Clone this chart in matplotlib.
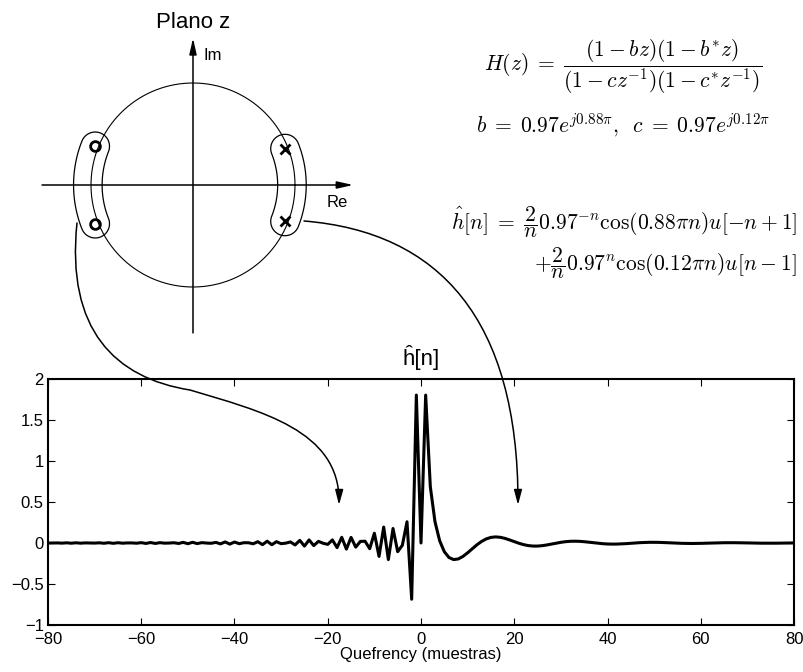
import numpy as np
import matplotlib
matplotlib.use("Agg")
import matplotlib.pyplot as plt
from matplotlib.path import Path
from matplotlib.patches import FancyArrowPatch, Polygon
from matplotlib.ticker import FuncFormatter

plt.rcParams['font.family'] = ['Liberation Sans', 'DejaVu Sans']
plt.rcParams['mathtext.fontset'] = 'cm'

# cepstrum values, n = -80 .. 80
n = np.arange(-80, 81)
h_neg = [-0.0007, -0.0001, 0.0010, -0.0018, 0.0024, -0.0027, 0.0026, -0.0022,
         0.0013, -0.0002, -0.0011, 0.0023, -0.0032, 0.0038, -0.0039, 0.0034,
         -0.0024, 0.0009, 0.0009, -0.0027, 0.0043, -0.0054, 0.0058, -0.0054,
         0.0041, -0.0021, -0.0005, 0.0032, -0.0058, 0.0077, -0.0087, 0.0085,
         -0.0070, 0.0043, -0.0007, -0.0035, 0.0076, -0.0110, 0.0131, -0.0136,
         0.0120, -0.0084, 0.0031, 0.0033, -0.0099, 0.0159, -0.0202, 0.0220,
         -0.0207, 0.0160, -0.0083, -0.0018, 0.0130, -0.0237, 0.0324, -0.0374,
         0.0373, -0.0315, 0.0198, -0.0032, -0.0168, 0.0376, -0.0563, 0.0695,
         -0.0744, 0.0683, -0.0500, 0.0194, 0.0217, -0.0697, 0.1193, -0.1636,
         0.1944, -0.2023, 0.1770, -0.1062, -0.0278, 0.2591, -0.6859, 1.8038]
h_zero = [0.0]
h_pos = [1.8038, 0.6859, 0.2591, 0.0278, -0.1062, -0.1770, -0.2023, -0.1944,
         -0.1636, -0.1193, -0.0697, -0.0217, 0.0194, 0.0500, 0.0683, 0.0744,
         0.0695, 0.0563, 0.0376, 0.0168, -0.0032, -0.0198, -0.0315, -0.0373,
         -0.0374, -0.0324, -0.0237, -0.0130, -0.0018, 0.0083, 0.0160, 0.0207,
         0.0220, 0.0202, 0.0159, 0.0099, 0.0033, -0.0031, -0.0084, -0.0120,
         -0.0136, -0.0131, -0.0110, -0.0076, -0.0035, 0.0007, 0.0043, 0.0070,
         0.0085, 0.0087, 0.0077, 0.0058, 0.0032, 0.0005, -0.0021, -0.0041,
         -0.0054, -0.0058, -0.0054, -0.0043, -0.0027, -0.0009, 0.0009, 0.0024,
         0.0034, 0.0039, 0.0038, 0.0032, 0.0023, 0.0011, -0.0002, -0.0013,
         -0.0022, -0.0026, -0.0027, -0.0024, -0.0018, -0.0010, -0.0001, 0.0007]
h_hat = np.array(h_neg + h_zero + h_pos)

# zeros outside / poles inside the unit circle
zero_r = 1 / 0.97
zero_ang = [0.88 * np.pi, -0.88 * np.pi]
pole_r = 0.97
pole_ang = [0.12 * np.pi, -0.12 * np.pi]

W, H = 804, 672
fig = plt.figure(figsize=(W / 100, H / 100), dpi=100)


def fx(x):
    return x / W


def fy(y):
    return 1 - y / H


# ---- bottom plot ----
ax = fig.add_axes([fx(48), fy(625), (794 - 48) / W, (625 - 379) / H])
ax.plot(n, h_hat, color='black', lw=2.2)
ax.set_xlim(-80, 80)
ax.set_ylim(-1, 2)
ax.set_xticks(np.arange(-80, 81, 20))
ax.set_yticks([-1, -0.5, 0, 0.5, 1, 1.5, 2])
fmt = FuncFormatter(lambda v, p: ('%g' % v).replace('-', '\u2212'))
ax.xaxis.set_major_formatter(fmt)
ax.yaxis.set_major_formatter(fmt)
ax.tick_params(direction='in', top=True, right=True, length=5, width=0.8,
               labelsize=12)
ax.tick_params(axis='x', pad=5)
ax.tick_params(axis='y', pad=3)
for s in ax.spines.values():
    s.set_linewidth(1.5)
ax.set_xlabel('Quefrency (muestras)', fontsize=12, labelpad=0)
ax.set_title('\u0125[n]', fontsize=16, pad=10)

# ---- z plane ----
cx, cy, unit = 193, 185, 102.0
zl, zr, zt, zb = 20, 380, 10, 350
az = fig.add_axes([fx(zl), fy(zb), (zr - zl) / W, (zb - zt) / H])
az.set_xlim((zl - cx) / unit, (zr - cx) / unit)
az.set_ylim((cy - zb) / unit, (cy - zt) / unit)
az.axis('off')

t = np.linspace(0, 2 * np.pi, 400)
az.plot(np.cos(t), np.sin(t), color='black', lw=0.8)
axis_arrow = dict(arrowstyle='-|>,head_length=0.8,head_width=0.18',
                  color='black', lw=1.1, mutation_scale=12,
                  shrinkA=0, shrinkB=0)
az.annotate('', xy=(1.57, 0), xytext=(-1.48, 0), arrowprops=axis_arrow)
az.annotate('', xy=(0, 1.44), xytext=(0, -1.45), arrowprops=axis_arrow)
az.text(0.1, 1.27, 'Im', fontsize=12, ha='left', va='center')
az.text(1.31, -0.17, 'Re', fontsize=12, ha='left', va='center')
az.text(0, (cy - 22) / unit, 'Plano z', fontsize=16, ha='center', va='center')

az.plot(zero_r * np.cos(zero_ang), zero_r * np.sin(zero_ang), 'o', ms=7,
        mfc='none', mec='black', mew=2)
az.plot(pole_r * np.cos(pole_ang), pole_r * np.sin(pole_ang), 'x', ms=7,
        color='black', mew=2)


def bean(r0, a0, span, hw):
    a = np.linspace(a0 - span, a0 + span, 60)
    outer = np.c_[(r0 + hw) * np.cos(a), (r0 + hw) * np.sin(a)]
    inner = np.c_[(r0 - hw) * np.cos(a[::-1]), (r0 - hw) * np.sin(a[::-1])]
    ca = np.linspace(0, np.pi, 30)
    e1 = np.array([r0 * np.cos(a0 + span), r0 * np.sin(a0 + span)])
    e2 = np.array([r0 * np.cos(a0 - span), r0 * np.sin(a0 - span)])
    u1 = e1 / r0
    v1 = np.array([-u1[1], u1[0]])
    cap1 = e1 + hw * (np.outer(np.cos(ca), u1) + np.outer(np.sin(ca), v1))
    u2 = e2 / r0
    v2 = np.array([u2[1], -u2[0]])
    cap2 = e2 + hw * (np.outer(-np.cos(ca), u2) + np.outer(np.sin(ca), v2))
    return np.vstack([outer, cap1, inner, cap2])


az.add_patch(Polygon(bean(zero_r, np.pi, 0.12 * np.pi, 0.14), closed=True,
                     fill=False, lw=0.9, ec='black'))
az.add_patch(Polygon(bean(pole_r, 0.0, 0.12 * np.pi, 0.14), closed=True,
                     fill=False, lw=0.9, ec='black'))

# ---- equations ----
fs_eq = 15.5
fig.text(fx(623), fy(67),
         r'$H(z)\;=\;\dfrac{(1-bz)(1-b^{*}z)}{(1-cz^{-1})(1-c^{*}z^{-1})}$',
         fontsize=fs_eq, ha='center', va='center')
fig.text(fx(623), fy(125),
         r'$b\;=\;0.97e^{j0.88\pi},\;\;c\;=\;0.97e^{j0.12\pi}$',
         fontsize=fs_eq, ha='center', va='center')
fig.text(fx(797), fy(222),
         r'$\hat{h}[n]\;=\;\dfrac{2}{n}0.97^{-n}\cos(0.88\pi n)u[-n+1]$',
         fontsize=fs_eq, ha='right', va='center')
fig.text(fx(797), fy(263),
         r'$+\dfrac{2}{n}0.97^{n}\cos(0.12\pi n)u[n-1]$',
         fontsize=fs_eq, ha='right', va='center')

# ---- curved arrows from the z plane to the cepstrum ----
ov = fig.add_axes([0, 0, 1, 1], zorder=10)
ov.set_xlim(0, W)
ov.set_ylim(H, 0)
ov.axis('off')
ov.patch.set_alpha(0)

left_path = Path([(77, 223), (66, 330), (115, 378), (190, 390),
                  (260, 411), (340, 430), (339, 505)],
                 [Path.MOVETO] + [Path.CURVE4] * 6)
right_path = Path([(304, 221), (440, 232), (518, 320), (518, 505)],
                  [Path.MOVETO] + [Path.CURVE4] * 3)
for p in (left_path, right_path):
    ov.add_patch(FancyArrowPatch(path=p, transform=ov.transData,
                                 arrowstyle='-|>,head_length=0.75,head_width=0.2',
                                 mutation_scale=12, lw=1.1, color='black'))

fig.savefig('out.png', dpi=100)
